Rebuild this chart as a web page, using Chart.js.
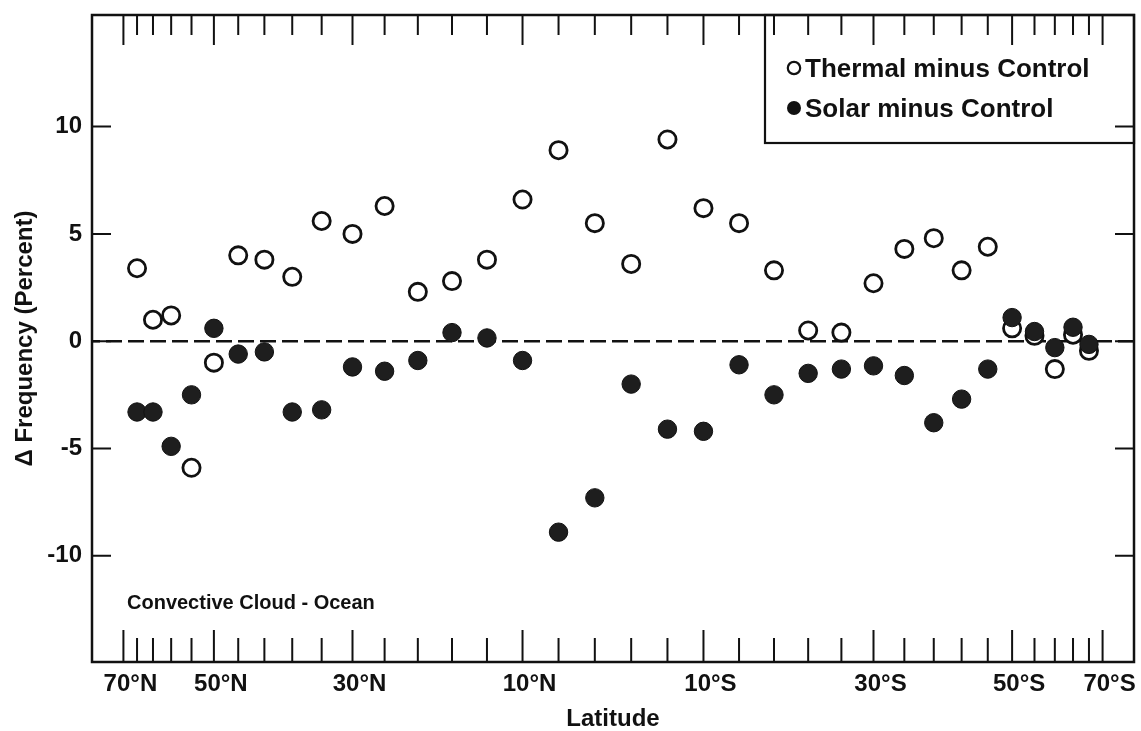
<!DOCTYPE html>
<html>
<head>
<meta charset="utf-8">
<script src="https://cdn.jsdelivr.net/npm/chart.js@4.4.0/dist/chart.umd.min.js"></script>
<style>
  html, body { margin: 0; padding: 0; background: #fff; overflow: hidden; }
  #wrap { width: 1141px; height: 731px; position: relative; }
</style>
</head>
<body>
<div id="wrap"><canvas id="grafico"></canvas></div>
<script>
// model latitude bands (degrees, + = north), one point per band
var latitudes = [66, 62, 58, 54, 50, 46, 42, 38, 34, 30, 26, 22, 18, 14, 10, 6, 2,
  -2, -6, -10, -14, -18, -22, -26, -30, -34, -38, -42, -46, -50, -54, -58, -62, -66];

// Δ frequency (percent)
var thermal = [3.4, 1.0, 1.2, -5.9, -1.0, 4.0, 3.8, 3.0, 5.6, 5.0, 6.3, 2.3, 2.8, 3.8, 6.6, 8.9, 5.5,
  3.6, 9.4, 6.2, 5.5, 3.3, 0.5, 0.4, 2.7, 4.3, 4.8, 3.3, 4.4, 0.6, 0.25, -1.3, 0.3, -0.45];
var solar = [-3.3, -3.3, -4.9, -2.5, 0.6, -0.6, -0.5, -3.3, -3.2, -1.2, -1.4, -0.9, 0.4, 0.15, -0.9, -8.9, -7.3,
  -2.0, -4.1, -4.2, -1.1, -2.5, -1.5, -1.3, -1.15, -1.6, -3.8, -2.7, -1.3, 1.1, 0.45, -0.3, 0.65, -0.15];

var labelLats = [70, 50, 30, 10, -10, -30, -50, -70];
var labelTexts = ['70°N', '50°N', '30°N', '10°N', '10°S', '30°S', '50°S', '70°S'];
var tickLats = [70, 66, 62, 58, 54, 50, 46, 42, 38, 34, 30, 26, 22, 18, 14, 10, 6, 2,
  -2, -6, -10, -14, -18, -22, -26, -30, -34, -38, -42, -46, -50, -54, -58, -62, -66, -70];
var yTickValues = [-10, -5, 0, 5, 10];

var seriesNames = ['Thermal minus Control', 'Solar minus Control'];
var noteText = 'Convective Cloud - Ocean';

// x axis is area weighted: position goes with sin(latitude)
function sinLat(lat) { return Math.sin(lat * Math.PI / 180); }

function toPoints(serie) {
  var out = [];
  for (var i = 0; i < serie.length; i++) out.push({ x: sinLat(latitudes[i]), y: serie[i] });
  return out;
}

var FONT = "'Liberation Sans', Arial, sans-serif";

var framePlugin = {
  id: 'frame',
  afterDraw: function (chart) {
    var c = chart.ctx, a = chart.chartArea;
    var xs = chart.scales.x, ys = chart.scales.y;
    c.save();
    c.strokeStyle = '#111';
    c.lineWidth = 2.5;
    c.strokeRect(a.left, a.top, a.right - a.left, a.bottom - a.top);

    // inward ticks
    c.lineWidth = 2;
    c.beginPath();
    for (var i = 0; i < tickLats.length; i++) {
      var px = xs.getPixelForValue(sinLat(tickLats[i]));
      var big = labelLats.indexOf(tickLats[i]) >= 0;
      c.moveTo(px, a.top); c.lineTo(px, a.top + (big ? 30 : 20));
      c.moveTo(px, a.bottom); c.lineTo(px, a.bottom - (big ? 32 : 24));
    }
    for (var j = 0; j < yTickValues.length; j++) {
      var py = ys.getPixelForValue(yTickValues[j]);
      c.moveTo(a.left, py); c.lineTo(a.left + 19, py);
      c.moveTo(a.right, py); c.lineTo(a.right - 19, py);
    }
    c.stroke();

    // legend box in the top right corner
    var bx = a.right - 369, by = a.top, bh = 128;
    c.lineWidth = 2.2;
    c.strokeRect(bx, by, a.right - bx, bh);
    c.font = 'bold 26px ' + FONT;
    c.textBaseline = 'middle';
    c.fillStyle = '#111';
    c.beginPath();
    c.arc(bx + 29, by + 53, 6.2, 0, Math.PI * 2);
    c.lineWidth = 2.2;
    c.stroke();
    c.fillText(seriesNames[0], bx + 40, by + 55);
    c.beginPath();
    c.arc(bx + 29, by + 93, 7, 0, Math.PI * 2);
    c.fill();
    c.fillText(seriesNames[1], bx + 40, by + 95);

    c.font = 'bold 20px ' + FONT;
    c.fillText(noteText, a.left + 35, ys.getPixelForValue(-12.2));
    c.restore();
  }
};

var chart = new Chart(document.getElementById('grafico').getContext('2d'), {
  type: 'scatter',
  data: {
    datasets: [{
      label: seriesNames[0],
      data: toPoints(thermal),
      order: 2,
      pointStyle: 'circle',
      pointRadius: 8.6,
      pointHoverRadius: 8.6,
      borderWidth: 2.8,
      borderColor: '#111',
      backgroundColor: '#fff'
    }, {
      label: seriesNames[1],
      data: toPoints(solar),
      order: 1,
      pointStyle: 'circle',
      pointRadius: 9.2,
      pointHoverRadius: 9.2,
      borderWidth: 1,
      borderColor: '#111',
      backgroundColor: '#1e1e1e'
    }, {
      type: 'line',
      label: 'zero',
      data: [{ x: -1, y: 0 }, { x: 1, y: 0 }],
      order: 3,
      borderColor: '#111',
      borderWidth: 2.6,
      borderDash: [16, 6],
      pointRadius: 0
    }]
  },
  options: {
    responsive: true,
    maintainAspectRatio: false,
    animation: false,
    events: [],
    layout: { autoPadding: false, padding: { top: 15, right: 7, left: 0, bottom: 0 } },
    plugins: { legend: { display: false }, tooltip: { enabled: false } },
    scales: {
      x: {
        type: 'linear',
        min: -1,
        max: 1,
        reverse: true,
        grid: { display: false, drawTicks: false },
        border: { display: false },
        afterBuildTicks: function (scale) {
          scale.ticks = labelLats.map(function (l) { return { value: sinLat(l) }; });
        },
        afterFit: function (scale) {
          scale.height = 69;
          scale.paddingLeft = 0;
          scale.paddingRight = 0;
        },
        ticks: {
          autoSkip: false,
          maxRotation: 0,
          padding: 8,
          labelOffset: 7,
          color: '#111',
          font: { family: FONT, size: 24, weight: 'bold' },
          callback: function (v, i) { return labelTexts[i]; }
        },
        title: {
          display: true,
          text: 'Latitude',
          color: '#111',
          padding: { top: 0, bottom: 0 },
          font: { family: FONT, size: 24, weight: 'bold', lineHeight: 1 }
        }
      },
      y: {
        type: 'linear',
        min: -14.95,
        max: 15.2,
        grid: { display: false, drawTicks: false },
        border: { display: false },
        afterBuildTicks: function (scale) {
          scale.ticks = yTickValues.map(function (v) { return { value: v }; });
        },
        afterFit: function (scale) {
          scale.width = 92;
          scale.paddingTop = 0;
          scale.paddingBottom = 0;
        },
        ticks: {
          padding: 10,
          color: '#111',
          font: { family: FONT, size: 24, weight: 'bold' }
        },
        title: {
          display: true,
          text: 'Δ Frequency (Percent)',
          color: '#111',
          padding: { top: 13, bottom: 0 },
          font: { family: FONT, size: 24, weight: 'bold', lineHeight: 1 }
        }
      }
    }
  },
  plugins: [framePlugin]
});
</script>
</body>
</html>
